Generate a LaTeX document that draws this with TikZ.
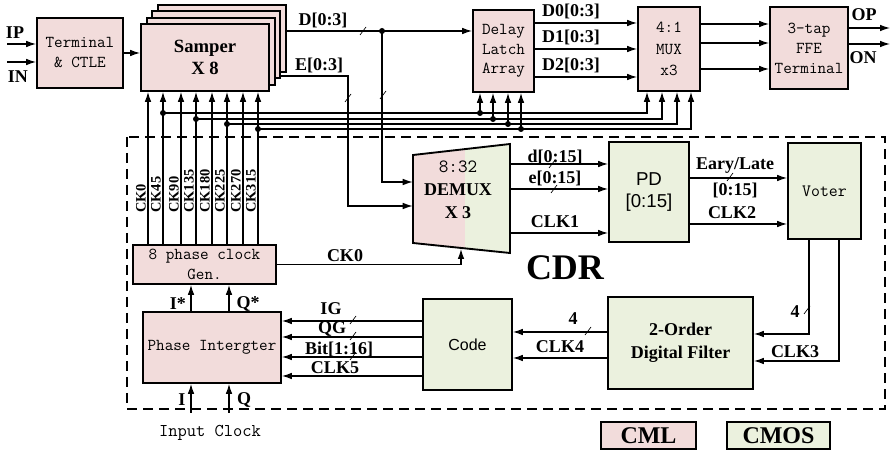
\documentclass[tikz,border=0pt]{standalone}
\usepackage{fontspec}
\setmainfont{Liberation Serif}
\setsansfont{Liberation Sans}
\usetikzlibrary{arrows.meta,calc}
\definecolor{cmlc}{RGB}{242,220,219}
\definecolor{cmosc}{RGB}{235,241,222}
\newcommand\busslash[1]{\draw[line width=0.5pt] ($(#1)+(-3,4)$) -- ($(#1)+(3,-4)$);}
% #1 style, #2 name, #3 x1, #4 y1, #5 x2, #6 y2, #7 text
\newcommand\mkbox[7]{\node[#1,minimum width={(#5-#3)*0.75pt},minimum height={(#6-#4)*0.75pt}] (#2) at ({(#3+#5)/2},{(#4+#6)/2}) {#7};}
\begin{document}
\begin{tikzpicture}[x=0.75pt,y=-0.75pt,
  blk/.style={draw,line width=1.4pt,inner sep=0pt,align=center,font=\ttfamily\fontsize{12.5}{15}\selectfont},
  cml/.style={blk,fill=cmlc},
  cmos/.style={blk,fill=cmosc},
  wire/.style={line width=0.9pt},
  arr/.style={wire,-{Latex[length=7.5pt,width=5pt]}},
  lbl/.style={font=\bfseries\fontsize{13.5}{15}\selectfont,inner sep=0pt},
  cklbl/.style={font=\bfseries\fontsize{10.8}{12}\selectfont,inner sep=0pt,rotate=90,anchor=south west},
  jdot/.style={circle,fill,inner sep=0pt,minimum size=4.5pt}]
\useasboundingbox (0,0) rectangle (894,452);

% CDR boundary
\draw[line width=0.8pt,dash pattern=on 7.5pt off 4.5pt] (127,137) rectangle (885,409);

% ---------- boxes ----------
\mkbox{cml}{ctle}{37}{18}{123}{88}{Terminal\\\& CTLE}
\mkbox{cml}{samp3}{158.1}{5.1}{286.1}{72.1}{}
\mkbox{cml}{samp2}{152.4}{11.4}{280.4}{78.4}{}
\mkbox{cml}{samp1}{146.7}{17.7}{274.7}{84.7}{}
\mkbox{cml,font=\bfseries\fontsize{14}{17}\selectfont}{samp}{141}{24}{269}{91}{Samper\\X 8}
\mkbox{cml,font=\ttfamily\fontsize{12.5}{14.6}\selectfont}{dla}{473}{10}{534}{92}{Delay\\Latch\\Array}
\mkbox{cml,font=\ttfamily\fontsize{12.5}{16}\selectfont}{mux}{638}{7}{700}{91}{4:1\\MUX\\x3}
\mkbox{cml}{ffe}{770}{7}{848}{89}{3-tap\\FFE\\Terminal}
\mkbox{cml,font=\ttfamily\fontsize{12.5}{14.5}\selectfont}{ckg}{133}{245}{276}{284}{8 phase clock\\Gen.}
\mkbox{cml}{pint}{143}{312}{281}{383}{Phase Intergter}
\mkbox{cmos,font=\sffamily\fontsize{14}{16.5}\selectfont}{pd}{609}{142}{689}{242}{PD\\{[0:15]}}
\mkbox{cmos,font=\ttfamily\fontsize{13}{15}\selectfont}{voter}{788}{143}{861}{239}{Voter}
\mkbox{cmos,font=\bfseries\fontsize{13.5}{17}\selectfont}{filt}{608}{297}{753}{389}{2-Order\\Digital Filter}
\mkbox{cmos,font=\sffamily\fontsize{12}{14}\selectfont}{code}{423}{299}{512}{390}{Code}

% DEMUX trapezoid
\fill[cmlc] (413,155) -- (465,149.1) -- (465,248.4) -- (413,243) -- cycle;
\fill[cmosc] (465,149.1) -- (510,144) -- (510,253) -- (465,248.4) -- cycle;
\draw[line width=1.4pt,line join=miter] (413,155) -- (510,144) -- (510,253) -- (413,243) -- cycle;
\mkbox{inner sep=0pt}{demux}{413}{144}{510}{253}{}
\node[align=center,inner sep=0pt,font=\bfseries\fontsize{13.5}{17.3}\selectfont] (demuxtxt) at (458,190) {{\mdseries\ttfamily\fontsize{14}{17.3}\selectfont 8:32}\\DEMUX\\X 3};

% legend and title
\mkbox{cml,font=\bfseries\fontsize{18}{20}\selectfont}{lgcml}{601}{422}{696}{449}{CML}
\mkbox{cmos,font=\bfseries\fontsize{18}{20}\selectfont}{lgcmos}{727}{422}{830}{449}{CMOS}
\node[font=\bfseries\fontsize{27}{30}\selectfont,inner sep=0pt] (cdr) at (565,268) {CDR};

% ---------- inputs ----------
\coordinate (ipin) at (7,44);
\coordinate (inin) at (7,62);
\draw[arr] (ipin) -- (ctle.west |- ipin);
\draw[arr] (inin) -- (ctle.west |- inin);
\node[lbl] (iplbl) at (15,33) {IP};
\node[lbl] (inlbl) at (18,77) {IN};
\draw[arr] (ctle.east) -- (samp.west |- ctle.east);

% ---------- D / E ----------
\coordinate (dj) at (382,31);
\coordinate (ej) at (348,76);
\coordinate (dyv) at (0,182);
\coordinate (eyv) at (0,206);
\draw[wire] (samp3.east |- dj) -- (dj);
\draw[arr] (dj) -- (dla.west |- dj);
\draw[arr] (dj) |- (demux.west |- dyv);
\draw[arr] (samp2.east |- ej) -- (ej) |- (demux.west |- eyv);
\node[jdot] (djd) at (dj) {};
\busslash{363,31}
\busslash{383,95}
\busslash{348,98}
\node[lbl] (dlbl) at (323,20) {D[0:3]};
\node[lbl] (elbl) at (319,65) {E[0:3]};

% ---------- delay latch -> mux -> ffe ----------
\foreach \y/\t [count=\i] in {23/D0,49/D1,77/D2} {
  \coordinate (dl\i) at (0,\y);
  \draw[arr] (dla.east |- dl\i) -- (mux.west |- dl\i);
  \node[lbl] (dll\i) at (571,\y-12) {\t[0:3]};
}
\foreach \y [count=\i] in {24,43,69} {
  \coordinate (mf\i) at (0,\y);
  \draw[arr] (mux.east |- mf\i) -- (ffe.west |- mf\i);
}
\coordinate (opout) at (890,28);
\coordinate (onout) at (890,44);
\draw[arr] (ffe.east |- opout) -- (opout);
\draw[arr] (ffe.east |- onout) -- (onout);
\node[lbl] (oplbl) at (864,15) {OP};
\node[lbl] (onlbl) at (863,58) {ON};

% ---------- clock phases ----------
\foreach \x/\n [count=\i] in {148/CK0,163/CK45,181/CK90,196/CK135,212/CK180,227/CK225,243/CK270,258/CK315} {
  \coordinate (ckx\i) at (\x,0);
  \draw[arr] (ckg.north -| ckx\i) -- (samp.south -| ckx\i);
  \node[cklbl] (ckl\i) at (\x-2,213) {\n};
}
\foreach \bx/\by/\dx/\mx [count=\i] in {163/113/480/647,196/119/493/662,227/124/508/677,258/129/521/691} {
  \coordinate (b\i) at (\bx,\by);
  \coordinate (m\i) at (\mx,0);
  \coordinate (d\i) at (\dx,\by);
  \draw[arr] (b\i) -| (mux.south -| m\i);
  \draw[arr] (d\i) -- (dla.south -| d\i);
  \node[jdot] (bd\i) at (b\i) {};
  \node[jdot] (dd\i) at (d\i) {};
}

% ---------- CK0 to DEMUX ----------
\coordinate (dmxb) at (461,249);
\draw[arr] (ckg.east) -| (dmxb);
\node[lbl] (ck0lbl) at (345,256) {CK0};

% ---------- DEMUX -> PD ----------
\foreach \y/\t/\ly [count=\i] in {164/d[0:15]/157,189/e[0:15]/178,233/CLK1/222} {
  \coordinate (dp\i) at (0,\y);
  \draw[arr] (demux.east |- dp\i) -- (pd.west |- dp\i);
  \node[lbl] (dpl\i) at (555,\ly) {\t};
}
\busslash{552,164}
\busslash{554,189}

% ---------- PD -> Voter ----------
\coordinate (pv1) at (0,178);
\coordinate (pv2) at (0,224);
\draw[arr] (pd.east |- pv1) -- (voter.west |- pv1);
\draw[arr] (pd.east |- pv2) -- (voter.west |- pv2);
\busslash{730,177}
\node[lbl] (ealbl) at (735,166) {Eary/Late};
\node[lbl] (ealbl2) at (735,190) {[0:15]};
\node[lbl] (clk2lbl) at (732,213) {CLK2};

% ---------- Voter -> Filter ----------
\coordinate (v4x) at (809,0);
\coordinate (v4y) at (0,334);
\coordinate (v3x) at (839,0);
\coordinate (v3y) at (0,361);
\draw[arr] (voter.south -| v4x) |- (filt.east |- v4y);
\draw[arr] (voter.south -| v3x) |- (filt.east |- v3y);
\busslash{807,310}
\node[lbl] (v4lbl) at (795,312) {4};
\node[lbl] (clk3lbl) at (795,352) {CLK3};

% ---------- Filter -> Code ----------
\coordinate (fc1) at (0,332);
\coordinate (fc2) at (0,358);
\draw[arr] (filt.west |- fc1) -- (code.east |- fc1);
\draw[arr] (filt.west |- fc2) -- (code.east |- fc2);
\busslash{588,331}
\node[lbl] (fc4lbl) at (573,319) {4};
\node[lbl] (clk4lbl) at (560,347) {CLK4};

% ---------- Code -> Phase Intergter ----------
\foreach \y/\t/\lx/\ly [count=\i] in {321/IG/331/309,337/QG/332/329,357/Bit[1:16]/339/349,376/CLK5/335/368} {
  \coordinate (cp\i) at (0,\y);
  \draw[arr] (code.west |- cp\i) -- (pint.east |- cp\i);
  \node[lbl] (cpl\i) at (\lx,\ly) {\t};
}
\busslash{353,320}
\busslash{353,336}
\busslash{353,356}

% ---------- Phase Intergter -> clock gen ----------
\coordinate (ix) at (191,0);
\coordinate (qx) at (229,0);
\draw[arr] (pint.north -| ix) -- (ckg.south -| ix);
\draw[arr] (pint.north -| qx) -- (ckg.south -| qx);
\node[lbl] (istar) at (178,304) {I*};
\node[lbl] (qstar) at (248,304) {Q*};
\coordinate (iin) at (191,413);
\coordinate (qin) at (229,413);
\draw[arr] (iin) -- (pint.south -| iin);
\draw[arr] (qin) -- (pint.south -| qin);
\node[lbl] (ilbl) at (182,400) {I};
\node[lbl] (qlbl) at (244,400) {Q};
\node[font=\ttfamily\fontsize{13.5}{15}\selectfont,inner sep=0pt] (inclk) at (210,433) {Input Clock};
\end{tikzpicture}
\end{document}
